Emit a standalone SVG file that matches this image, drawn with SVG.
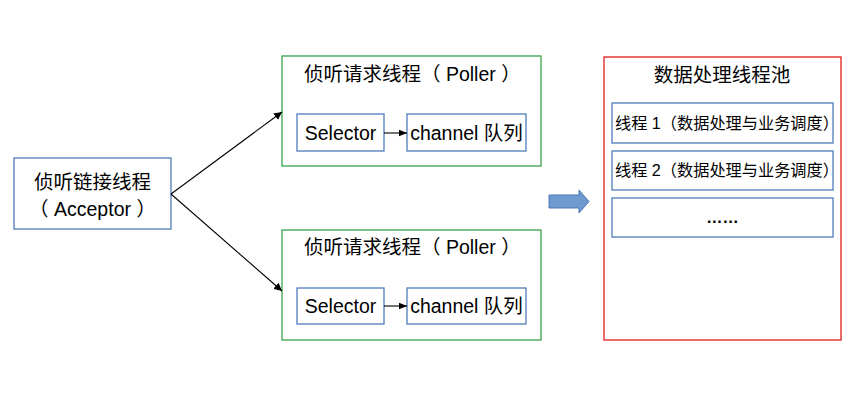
<svg xmlns="http://www.w3.org/2000/svg" width="857" height="401" viewBox="0 0 857 401">
<defs>
<style>
text{font-family:"Liberation Sans","Noto Sans CJK SC",sans-serif;fill:#000}
.t18{font-size:19.5px}
.t15{font-size:16.2px}
.blue{fill:#fff;stroke:#4f7cba;stroke-width:1.3}
.green{fill:#fff;stroke:#3aa34c;stroke-width:1.3}
.red{fill:#fff;stroke:#e01b1b;stroke-width:1.3}
.conn{stroke:#000;stroke-width:1.1;fill:none}
</style>
<marker id="ah" viewBox="0 0 10 10" refX="10" refY="5" markerWidth="8" markerHeight="8" markerUnits="userSpaceOnUse" orient="auto">
<path d="M0,0 L10,5 L0,10 z" fill="#000"/>
</marker>
<marker id="ah2" viewBox="0 0 10 10" refX="10" refY="5" markerWidth="10" markerHeight="8" markerUnits="userSpaceOnUse" orient="auto">
<path d="M0,1 L10,5 L0,9 z" fill="#000"/>
</marker>
</defs>
<rect width="857" height="401" fill="#fff"/>

<g id="acceptor">
<rect class="blue" x="14" y="158" width="157" height="71"/>
<text class="t18" x="92.5" y="189" text-anchor="middle">侦听链接线程</text>
<text class="t18" x="92.5" y="216" text-anchor="middle">（ Acceptor ）</text>
</g>

<g id="poller1">
<rect class="green" x="282" y="56" width="259" height="110"/>
<text class="t18" x="304" y="81">侦听请求线程（ Poller ）</text>
</g>
<g id="selector1">
<rect class="blue" x="297" y="114" width="87" height="37"/>
<text class="t18" x="340.5" y="139.5" text-anchor="middle">Selector</text>
</g>
<g id="channel1">
<rect class="blue" x="407" y="114" width="119" height="37"/>
<text class="t18" x="466.5" y="139.5" text-anchor="middle">channel 队列</text>
</g>

<g id="poller2">
<rect class="green" x="282" y="230" width="259" height="110"/>
<text class="t18" x="304" y="254">侦听请求线程（ Poller ）</text>
</g>
<g id="selector2">
<rect class="blue" x="297" y="288" width="87" height="36"/>
<text class="t18" x="340.5" y="313" text-anchor="middle">Selector</text>
</g>
<g id="channel2">
<rect class="blue" x="407" y="288" width="119" height="36"/>
<text class="t18" x="466.5" y="313" text-anchor="middle">channel 队列</text>
</g>

<g id="pool">
<rect class="red" x="604" y="57" width="237" height="283"/>
<text class="t18" x="722" y="82" text-anchor="middle">数据处理线程池</text>
</g>
<g id="thread1">
<rect class="blue" x="612" y="103" width="221" height="40"/>
<text class="t15" x="615" y="129">线程 1（数据处理与业务调度）</text>
</g>
<g id="thread2">
<rect class="blue" x="612" y="151" width="221" height="39"/>
<text class="t15" x="615" y="176">线程 2（数据处理与业务调度）</text>
</g>
<g id="threadN">
<rect class="blue" x="612" y="198" width="221" height="39"/>
<text class="t15" x="722.5" y="223" text-anchor="middle" font-weight="bold">……</text>
</g>

<g id="connectors">
<line class="conn" x1="171" y1="194" x2="282" y2="112" marker-end="url(#ah)"/>
<line class="conn" x1="171" y1="194" x2="282" y2="291" marker-end="url(#ah)"/>
<line class="conn" x1="384" y1="133" x2="407" y2="133" marker-end="url(#ah2)"/>
<line class="conn" x1="384" y1="306" x2="407" y2="306" marker-end="url(#ah2)"/>
<path d="M549,195 L579,195 L579,190 L589,201.5 L579,213 L579,208 L549,208 Z" fill="#6f9ad0" stroke="#4a78b5" stroke-width="1"/>
</g>
</svg>
